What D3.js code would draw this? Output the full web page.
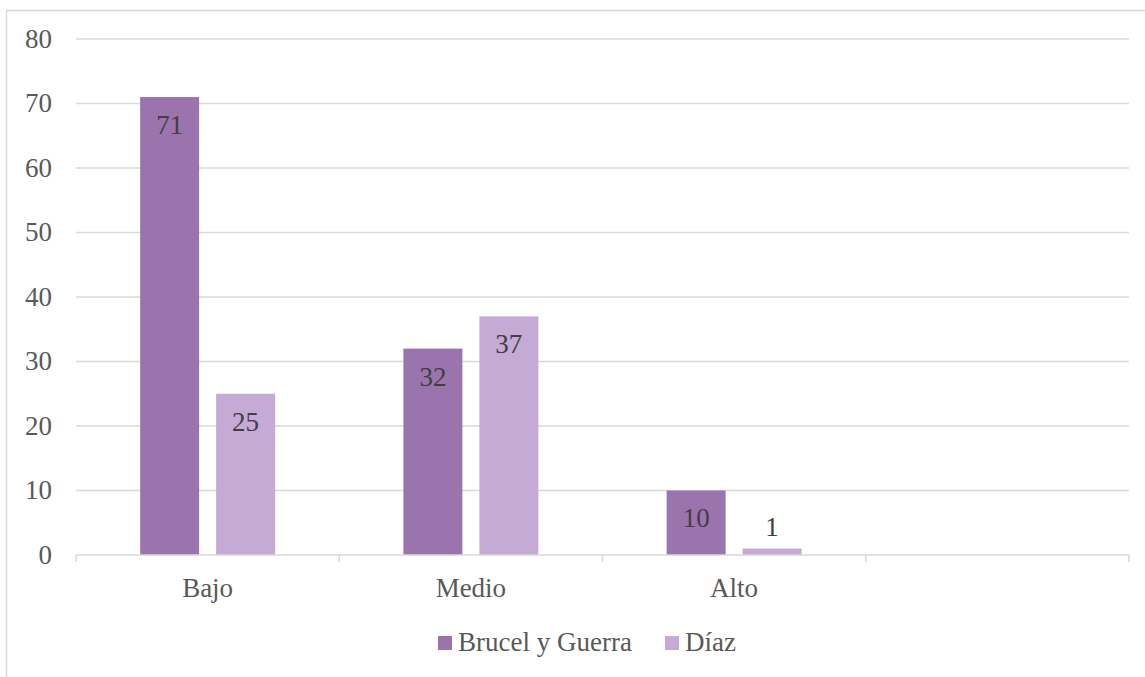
<!DOCTYPE html>
<meta charset="utf-8">
<title>Brucel y Guerra vs Díaz</title>
<style>
body { margin: 0; background: #fff; }
svg text { font-family: "Liberation Serif", "Times New Roman", serif; fill: #595959; }
</style>
<script src="https://d3js.org/d3.v7.min.js"></script>
<body>
<script>
var width = 1145, height = 677;

// chart data
var categories = ["Bajo", "Medio", "Alto", ""];
var seriesNames = ["Brucel y Guerra", "Díaz"];
var brucel = [71, 32, 10, null];
var diaz = [25, 37, 1, null];
var yTicks = [0, 10, 20, 30, 40, 50, 60, 70, 80];
var colors = ["#9b74ae", "#c4aad5"];

var margin = {top: 39, left: 76, right: 16, bottom: 122};
var fs = 27;

var svg = d3.select("body").append("svg")
    .attr("width", width)
    .attr("height", height);

// outer chart border
svg.append("rect")
    .attr("x", 6.5).attr("y", 10.5)
    .attr("width", width + 10).attr("height", height + 10)
    .attr("fill", "none")
    .attr("stroke", "#d9d9d9")
    .attr("stroke-width", 1.5);

var x = d3.scaleBand()
    .domain(d3.range(categories.length))
    .range([margin.left, width - margin.right]);

var x1 = d3.scaleBand()
    .domain([0, 1])
    .range([0, x.bandwidth()])
    .paddingInner(0.224)
    .paddingOuter(0.844);

var y = d3.scaleLinear()
    .domain([0, 80])
    .range([height - margin.bottom, margin.top]);

// gridlines
svg.append("g").selectAll("line")
    .data(yTicks.slice(1))
  .enter().append("line")
    .attr("x1", margin.left).attr("x2", width - margin.right)
    .attr("y1", function(d) { return y(d); })
    .attr("y2", function(d) { return y(d); })
    .attr("stroke", "#d9d9d9")
    .attr("stroke-width", 1.5);

// y labels
svg.append("g").selectAll("text")
    .data(yTicks)
  .enter().append("text")
    .attr("x", 52)
    .attr("y", function(d) { return y(d); })
    .attr("dy", "0.33em")
    .attr("text-anchor", "end")
    .attr("font-size", fs)
    .text(function(d) { return d; });

// bars
var rows = categories.map(function(c, i) { return [brucel[i], diaz[i]]; });
var groups = svg.append("g").selectAll("g")
    .data(rows)
  .enter().append("g")
    .attr("transform", function(d, i) { return "translate(" + x(i) + ",0)"; });

function cells(d) {
  return d.map(function(v, k) { return {v: v, k: k}; }).filter(function(e) { return e.v != null; });
}

groups.selectAll("rect")
    .data(cells)
  .enter().append("rect")
    .attr("x", function(d) { return x1(d.k); })
    .attr("width", x1.bandwidth())
    .attr("y", function(d) { return y(d.v); })
    .attr("height", function(d) { return y(0) - y(d.v); })
    .attr("fill", function(d) { return colors[d.k]; });

groups.selectAll("text")
    .data(cells)
  .enter().append("text")
    .attr("x", function(d) { return x1(d.k) + x1.bandwidth() / 2; })
    .attr("y", function(d) { return d.v < 5 ? y(d.v) - 21 : y(d.v) + 28; })
    .attr("dy", "0.33em")
    .attr("text-anchor", "middle")
    .attr("font-size", fs)
    .style("fill", "#404040")
    .text(function(d) { return d.v; });

// x axis line and ticks
var axisY = y(0);
svg.append("line")
    .attr("x1", margin.left).attr("x2", width - margin.right)
    .attr("y1", axisY).attr("y2", axisY)
    .attr("stroke", "#d9d9d9")
    .attr("stroke-width", 1.5);

var tickXs = d3.range(categories.length).map(function(i) { return x(i); }).concat([x.range()[1]]);
svg.append("g").selectAll("line")
    .data(tickXs)
  .enter().append("line")
    .attr("x1", function(d) { return d; }).attr("x2", function(d) { return d; })
    .attr("y1", axisY).attr("y2", axisY + 7)
    .attr("stroke", "#d9d9d9")
    .attr("stroke-width", 1.5);

svg.append("g").selectAll("text")
    .data(categories)
  .enter().append("text")
    .attr("x", function(d, i) { return x(i) + x.bandwidth() / 2; })
    .attr("y", 597)
    .attr("text-anchor", "middle")
    .attr("font-size", fs)
    .text(function(d) { return d; });

// legend
var legendItems = [{x: 438, name: seriesNames[0], c: colors[0]}, {x: 665, name: seriesNames[1], c: colors[1]}];
var lg = svg.append("g").selectAll("g")
    .data(legendItems)
  .enter().append("g")
    .attr("transform", function(d) { return "translate(" + d.x + ",0)"; });
lg.append("rect")
    .attr("x", 0).attr("y", 636)
    .attr("width", 14).attr("height", 14)
    .attr("fill", function(d) { return d.c; });
lg.append("text")
    .attr("x", 20).attr("y", 651)
    .attr("font-size", fs)
    .text(function(d) { return d.name; });
</script>
